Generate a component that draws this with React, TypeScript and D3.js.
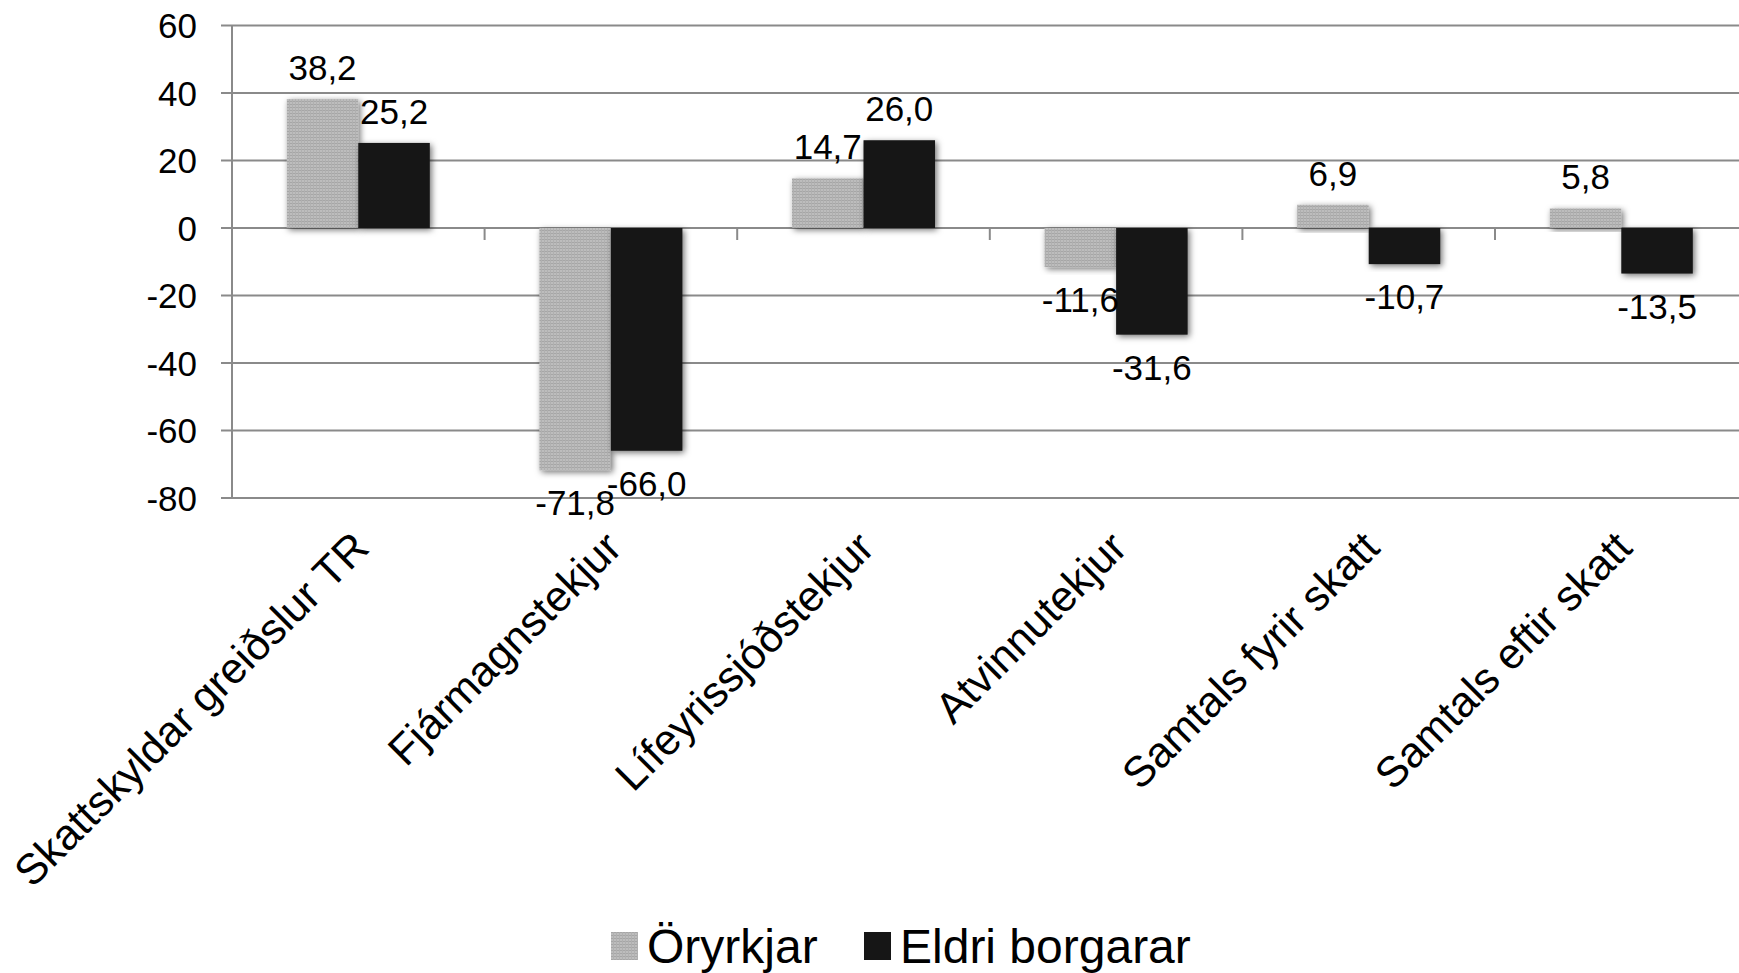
import * as d3 from "d3";

const categories = [
  "Skattskyldar greiðslur TR",
  "Fjármagnstekjur",
  "Lífeyrissjóðstekjur",
  "Atvinnutekjur",
  "Samtals fyrir skatt",
  "Samtals eftir skatt",
];
const series = ["Öryrkjar", "Eldri borgarar"];
const oryrkjar = [38.2, -71.8, 14.7, -11.6, 6.9, 5.8];
const eldri = [25.2, -66.0, 26.0, -31.6, -10.7, -13.5];
const yTicks = [60, 40, 20, 0, -20, -40, -60, -80];

const W = 1739;
const H = 973;
const FONT = "'Liberation Sans', Arial, sans-serif";

export default function App() {
  const values = [oryrkjar, eldri];

  const y = d3.scaleLinear().domain([-80, 60]).range([498, 25.5]);
  const x0 = d3.scaleBand<string>().domain(categories).range([232, 1747.6]);
  const x1 = d3
    .scaleBand<string>()
    .domain(series)
    .range([0, x0.bandwidth()])
    .paddingInner(0)
    .paddingOuter(0.766);

  const fills = ["url(#grayTex)", "#161616"];
  const fmt = (v: number) => v.toFixed(1).replace(".", ",");
  const y0 = y(0);

  return (
    <svg
      width={W}
      height={H}
      style={{ position: "absolute", left: 0, top: 0, background: "#fff" }}
      fontFamily={FONT}
    >
      <defs>
        <pattern id="grayTex" width="3" height="3" patternUnits="userSpaceOnUse">
          <rect width="3" height="3" fill="#bdbdbd" />
          <rect y="2" width="3" height="1" fill="#a6a6a6" />
          <rect x="1" width="1" height="3" fill="#b0b0b0" />
        </pattern>
        <filter id="shadow" x="-20%" y="-20%" width="140%" height="140%">
          <feDropShadow dx="2" dy="2" stdDeviation="3" floodColor="#000" floodOpacity="0.55" />
        </filter>
      </defs>

      {/* gridlines */}
      {yTicks.map((t) => (
        <g key={t}>
          <line x1={221} x2={W} y1={y(t)} y2={y(t)} stroke="#8a8a8a" strokeWidth={2} />
          <text
            x={197}
            y={y(t)}
            dy="0.36em"
            textAnchor="end"
            fontSize={35}
            fill="#000"
          >
            {t}
          </text>
        </g>
      ))}
      {/* y axis */}
      <line x1={232} x2={232} y1={y(60)} y2={y(-80)} stroke="#8a8a8a" strokeWidth={2} />
      {/* category ticks */}
      {categories.slice(1).map((c) => (
        <line
          key={c}
          x1={x0(c)}
          x2={x0(c)}
          y1={y0}
          y2={y0 + 12}
          stroke="#8a8a8a"
          strokeWidth={2}
        />
      ))}

      {/* bars */}
      {categories.map((c, i) =>
        series.map((s, k) => {
          const v = values[k][i];
          const bx = (x0(c) ?? 0) + (x1(s) ?? 0);
          return (
            <rect
              key={c + s}
              x={bx}
              y={Math.min(y(v), y0)}
              width={x1.bandwidth()}
              height={Math.abs(y(v) - y0)}
              fill={fills[k]}
              filter="url(#shadow)"
            />
          );
        })
      )}

      {/* data labels */}
      {categories.map((c, i) =>
        series.map((s, k) => {
          const v = values[k][i];
          const cx = (x0(c) ?? 0) + (x1(s) ?? 0) + x1.bandwidth() / 2;
          const ly = v >= 0 ? y(v) - 19 : y(v) + 45;
          return (
            <text
              key={"l" + c + s}
              x={cx}
              y={ly}
              textAnchor="middle"
              fontSize={35}
              fill="#000"
            >
              {fmt(v)}
            </text>
          );
        })
      )}

      {/* category labels */}
      {categories.map((c) => {
        const cx = (x0(c) ?? 0) + x0.bandwidth() / 2;
        return (
          <text
            key={"c" + c}
            transform={`translate(${cx + 13},550) rotate(-45)`}
            textAnchor="end"
            fontSize={43}
            fill="#000"
          >
            {c}
          </text>
        );
      })}

      {/* legend */}
      {series.map((s, k) => {
        const lx = [611, 864][k];
        return (
          <g key={"lg" + s}>
            <rect x={lx} y={932} width={27} height={28} fill={fills[k]} />
            <text x={lx + 36} y={963} fontSize={48} fill="#000">
              {s}
            </text>
          </g>
        );
      })}
    </svg>
  );
}
